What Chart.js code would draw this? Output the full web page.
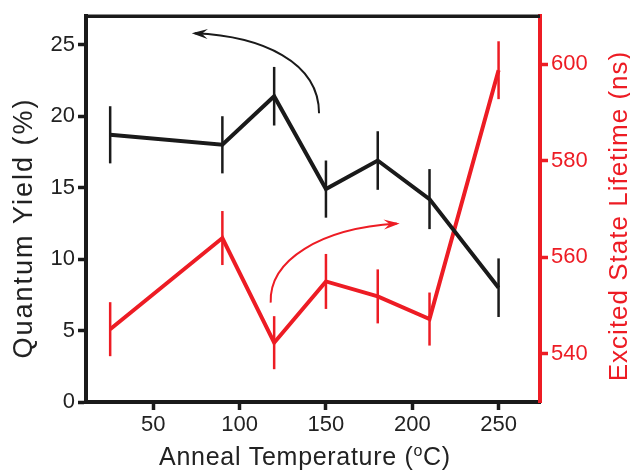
<!DOCTYPE html>
<html>
<head>
  <script src="https://cdn.jsdelivr.net/npm/chart.js"></script>
  <style>
    body { margin: 0; background: #fff; }
    .container { width: 630px; height: 470px; }
  </style>
</head>
<body>
  <div class="container">
    <canvas id="annealChart" width="630" height="470"></canvas>
  </div>
<script>
  // Values
  var temps = [25, 90, 120, 150, 180, 210, 250];
  var quantumYield = [18.7, 18.0, 21.4, 14.9, 16.9, 14.2, 8.0];
  var quantumYieldErr = [2.0, 2.0, 2.05, 2.0, 2.05, 2.1, 2.05];
  var lifetime = [545.1, 564.0, 542.3, 555.0, 551.9, 547.2, 598.8];
  var lifetimeErr = [5.6, 5.6, 5.5, 5.7, 5.6, 5.5, 6.0];
  var xTicks = [50, 100, 150, 200, 250];
  var qyTicks = [0, 5, 10, 15, 20, 25];
  var ltTicks = [540, 560, 580, 600];

  var BLACK = '#1a1a1a';
  var RED = '#ed1c24';
  var FONT = 'Liberation Sans, Arial, sans-serif';

  function pts(ys) {
    return temps.map(function (t, i) { return { x: t, y: ys[i] }; });
  }
  function fixTicks(list) {
    return function (scale) {
      scale.ticks = list.map(function (v) { return { value: v }; });
    };
  }

  // vertical error bars without caps
  var errorBars = {
    id: 'errorBars',
    afterDatasetsDraw: function (chart) {
      var ctx = chart.ctx;
      chart.data.datasets.forEach(function (ds) {
        var ys = chart.scales[ds.yAxisID];
        var xs = chart.scales.x;
        ctx.save();
        ctx.strokeStyle = ds.borderColor;
        ctx.lineWidth = 2.5;
        ds.data.forEach(function (p, i) {
          var px = xs.getPixelForValue(p.x);
          ctx.beginPath();
          ctx.moveTo(px, ys.getPixelForValue(p.y + ds.errors[i]));
          ctx.lineTo(px, ys.getPixelForValue(p.y - ds.errors[i]));
          ctx.stroke();
        });
        ctx.restore();
      });
    }
  };

  // top frame line, curved arrows and the axis titles
  var extras = {
    id: 'extras',
    afterDraw: function (chart) {
      var ctx = chart.ctx, a = chart.chartArea;
      var xs = chart.scales.x, ql = chart.scales.qy, lt = chart.scales.lt;
      ctx.save();
      ctx.strokeStyle = BLACK;
      ctx.lineWidth = 3.5;
      ctx.beginPath();
      ctx.moveTo(a.left - 2, a.top);
      ctx.lineTo(a.right, a.top);
      ctx.stroke();

      function arrow(color, p0, c1, c2, p1) {
        ctx.strokeStyle = color;
        ctx.fillStyle = color;
        ctx.lineWidth = 2;
        ctx.beginPath();
        ctx.moveTo(p0[0], p0[1]);
        ctx.bezierCurveTo(c1[0], c1[1], c2[0], c2[1], p1[0], p1[1]);
        ctx.stroke();
        var ang = Math.atan2(p1[1] - c2[1], p1[0] - c2[0]);
        var c = Math.cos(ang), s = Math.sin(ang), back = 13;
        ctx.beginPath();
        ctx.moveTo(p1[0] + c * 3, p1[1] + s * 3);
        ctx.lineTo(p1[0] - c * back + s * 5, p1[1] - s * back - c * 5);
        ctx.lineTo(p1[0] - c * back * 0.55, p1[1] - s * back * 0.55);
        ctx.lineTo(p1[0] - c * back - s * 5, p1[1] - s * back + c * 5);
        ctx.closePath();
        ctx.fill();
      }
      var X = function (v) { return xs.getPixelForValue(v); };
      var Q = function (v) { return ql.getPixelForValue(v); };
      var L = function (v) { return lt.getPixelForValue(v); };
      arrow(BLACK, [X(146), Q(20.2)], [X(146), Q(23.8)], [X(113), Q(25.6)], [X(74), Q(25.8)]);
      arrow(RED, [X(118), L(550.6)], [X(117), L(559.5)], [X(147), L(566)], [X(191), L(567)]);

      // axis titles
      ctx.textBaseline = 'middle';
      ctx.textAlign = 'center';
      ctx.fillStyle = '#222';
      ctx.font = '27px ' + FONT;
      ctx.letterSpacing = '2px';
      ctx.save();
      ctx.translate(25, 228);
      ctx.rotate(-Math.PI / 2);
      ctx.fillText('Quantum Yield (%)', 0, 0);
      ctx.restore();

      ctx.fillStyle = RED;
      ctx.font = '26px ' + FONT;
      ctx.letterSpacing = '1px';
      ctx.save();
      ctx.translate(620, 216);
      ctx.rotate(-Math.PI / 2);
      ctx.fillText('Excited State Lifetime (ns)', 0, 0);
      ctx.restore();

      // x title with superscript o
      ctx.fillStyle = '#222';
      ctx.textAlign = 'left';
      ctx.textBaseline = 'alphabetic';
      ctx.letterSpacing = '0.7px';
      var big = '25px ' + FONT, small = '16px ' + FONT;
      var p1 = 'Anneal Temperature (', p2 = 'o', p3 = 'C)';
      ctx.font = big;
      var w1 = ctx.measureText(p1).width, w3 = ctx.measureText(p3).width;
      ctx.font = small;
      var w2 = ctx.measureText(p2).width;
      var x0 = 305 - (w1 + w2 + w3) / 2, base = 465;
      ctx.font = big;
      ctx.fillText(p1, x0, base);
      ctx.font = small;
      ctx.fillText(p2, x0 + w1, base - 9);
      ctx.font = big;
      ctx.fillText(p3, x0 + w1 + w2, base);
      ctx.restore();
    }
  };

  var ctx = document.getElementById('annealChart').getContext('2d');
  var annealChart = new Chart(ctx, {
    type: 'line',
    data: {
      datasets: [
        {
          label: 'Quantum Yield',
          data: pts(quantumYield),
          errors: quantumYieldErr,
          borderColor: BLACK,
          borderWidth: 4,
          pointRadius: 0,
          yAxisID: 'qy'
        },
        {
          label: 'Excited State Lifetime',
          data: pts(lifetime),
          errors: lifetimeErr,
          borderColor: RED,
          borderWidth: 4,
          pointRadius: 0,
          yAxisID: 'lt'
        }
      ]
    },
    options: {
      responsive: false,
      animation: false,
      layout: { padding: { top: 14, left: 0, right: 0, bottom: 0 } },
      plugins: { legend: { display: false }, tooltip: { enabled: false } },
      scales: {
        x: {
          type: 'linear',
          min: 11,
          max: 274,
          afterBuildTicks: fixTicks(xTicks),
          afterFit: function (s) { s.height = 68; },
          border: { color: BLACK, width: 4 },
          grid: { drawOnChartArea: false, drawTicks: true, tickLength: 8, tickWidth: 3.5, tickColor: BLACK },
          ticks: { color: '#222', padding: 2, font: { family: FONT, size: 22 } }
        },
        qy: {
          type: 'linear',
          position: 'left',
          min: 0,
          max: 27,
          afterBuildTicks: fixTicks(qyTicks),
          afterFit: function (s) { s.width = 86; },
          border: { color: BLACK, width: 4 },
          grid: { drawOnChartArea: false, drawTicks: true, tickLength: 8, tickWidth: 3.5, tickColor: BLACK },
          ticks: { color: '#222', padding: 3, font: { family: FONT, size: 22 } }
        },
        lt: {
          type: 'linear',
          position: 'right',
          min: 530,
          max: 610,
          afterBuildTicks: fixTicks(ltTicks),
          afterFit: function (s) { s.width = 90; },
          border: { color: RED, width: 4 },
          grid: { drawOnChartArea: false, drawTicks: true, tickLength: 8, tickWidth: 3.5, tickColor: RED },
          ticks: { color: RED, padding: 3, font: { family: FONT, size: 22 } }
        }
      }
    },
    plugins: [errorBars, extras]
  });
</script>
</body>
</html>
